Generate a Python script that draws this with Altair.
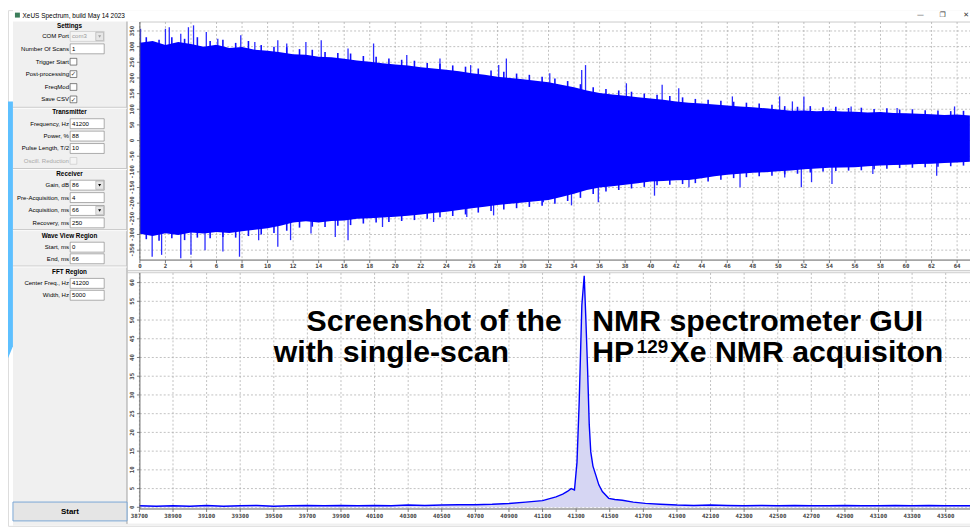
import altair as alt
import pandas as pd

# ---------------- chart values ----------------
# Top panel: FID envelope, time in ms
fid_t_ms = list(range(66))
fid_upper = [312, 318, 305, 315, 308, 300, 306, 296, 299, 290,
             287, 282, 276, 274, 268, 266, 261, 256, 252, 247,
             243, 240, 234, 230, 226, 221, 215, 210, 204, 200,
             196, 191, 186, 178, 170, 160, 152, 147, 143, 138,
             134, 130, 125, 121, 118, 115, 112, 109, 106, 103,
             99, 95, 96, 94, 95, 93, 92, 90, 91, 88,
             87, 86, 84, 82, 83, 80]
fid_lower = [-298, -305, -296, -302, -294, -297, -292, -295, -290, -285,
             -280, -272, -262, -258, -262, -257, -255, -250, -248, -246,
             -243, -240, -236, -231, -227, -222, -216, -211, -206, -202,
             -198, -194, -190, -180, -170, -158, -150, -146, -141, -136,
             -131, -129, -127, -126, -120, -114, -109, -106, -103, -101,
             -98, -96, -92, -89, -87, -86, -85, -82, -80, -78,
             -77, -75, -74, -72, -70, -68]
# tall isolated spikes
spike_up_t = [0.05, 2.0, 2.3, 3.2, 3.8, 4.2, 5.2, 6.1, 7.9, 9.0,
              10.8, 11.5, 13.0, 14.2, 16.3, 18.3, 20.9, 23.5, 25.9, 28.1,
              28.7, 32.1, 34.6, 34.9, 38.1, 40.9, 42.2, 46.4, 50.1, 51.1,
              52.0, 55.7, 59.3, 63.8]
spike_up_v = [357, 357, 362, 341, 362, 368, 347, 325, 336, 315,
              320, 310, 315, 320, 294, 310, 273, 262, 241, 241,
              262, 215, 225, 241, 183, 178, 167, 141, 141, 125,
              141, 109, 104, 109]
spike_dn_t = [0.96, 1.7, 3.2, 4.0, 5.1, 6.5, 7.8, 9.3, 10.8, 11.8,
              13.4, 15.3, 16.3, 19.0, 23.0, 25.6, 27.7, 31.6, 33.8, 35.9,
              40.3, 43.0, 47.0, 50.5, 51.8, 52.6, 54.2, 57.4, 62.4]
spike_dn_v = [-371, -365, -376, -365, -350, -354, -371, -318, -339, -318,
              -297, -308, -318, -276, -260, -244, -239, -197, -207, -197,
              -176, -149, -149, -118, -149, -133, -139, -107, -112]
# ragged fringe along the band edges (at t = 0.5, 1.5, ... 64.5 ms)
fringe_t = [0.5 + i for i in range(65)]
fringe_up = [330, 322, 330, 325, 330, 318, 322, 312, 318, 305,
             300, 298, 292, 290, 283, 280, 278, 270, 268, 262,
             258, 255, 248, 245, 240, 236, 230, 224, 220, 214,
             210, 204, 198, 190, 180, 170, 165, 160, 156, 150,
             146, 142, 138, 133, 130, 127, 124, 121, 118, 114,
             110, 108, 110, 106, 108, 104, 105, 101, 103, 99,
             100, 97, 96, 94, 95]
fringe_dn = [-315, -320, -312, -318, -310, -312, -308, -310, -305, -300,
             -295, -288, -278, -275, -276, -272, -270, -265, -262, -260,
             -257, -254, -250, -245, -241, -236, -230, -225, -220, -216,
             -212, -208, -202, -193, -183, -171, -163, -158, -153, -148,
             -143, -141, -139, -136, -131, -125, -120, -117, -114, -112,
             -108, -106, -102, -99, -97, -96, -95, -92, -90, -88,
             -87, -85, -84, -82, -80]
fid_xticks = list(range(0, 65, 2))
fid_yticks = list(range(-350, 351, 50))

# Bottom panel: FFT magnitude, frequency in Hz
spec_freq = [38700, 38800, 38900, 39000, 39100, 39200, 39300, 39400, 39500, 39600,
             39700, 39800, 39900, 40000, 40100, 40200, 40300, 40400, 40500, 40600,
             40700, 40800, 40900, 41000, 41100, 41180, 41220, 41250, 41270, 41290,
             41305, 41318, 41334, 41348, 41358, 41368, 41378, 41387, 41400, 41417,
             41435, 41456, 41494, 41530, 41575, 41640, 41712, 41800, 41900, 42000,
             42100, 42200, 42300, 42400, 42500, 42600, 42700, 42800, 42900, 43000,
             43100, 43200, 43300, 43400, 43500, 43600, 43700]
spec_amp = [0.4, 0.3, 0.4, 0.3, 0.5, 0.3, 0.4, 0.5, 0.3, 0.4,
            0.5, 0.4, 0.5, 0.4, 0.5, 0.4, 0.6, 0.5, 0.6, 0.7,
            0.7, 0.8, 1.0, 1.4, 1.8, 2.8, 3.5, 4.3, 5.0, 4.6,
            12, 28, 54, 61.8, 50, 37, 22, 14.8, 11, 8.6,
            6.0, 4.2, 2.4, 2.1, 1.9, 1.4, 1.05, 0.8, 0.6, 0.5,
            0.6, 0.5, 0.4, 0.5, 0.4, 0.5, 0.4, 0.4, 0.5, 0.4,
            0.4, 0.5, 0.4, 0.5, 0.4, 0.4, 0.4]
spec_xticks = list(range(38700, 43501, 200))
spec_yticks = list(range(0, 61, 5))

# GUI texts
title_text = "XeUS Spectrum, build May 14 2023"
panel_labels = ["Settings", "COM Port", "Number Of Scans", "Trigger Start", "Post-processing",
                "FreqMod", "Save CSV", "Transmitter", "Frequency, Hz", "Power, %",
                "Pulse Length, T/2", "Oscill. Reduction", "Receiver", "Gain, dB",
                "Pre-Acquisition, ms", "Acquisition, ms", "Recovery, ms", "Wave View Region",
                "Start, ms", "End, ms", "FFT Region", "Center Freq., Hz", "Width, Hz"]
panel_kinds = ["header", "combo_off", "edit", "check", "check_on",
               "check", "check_on", "header", "edit", "edit",
               "edit", "check_off", "header", "combo",
               "edit", "combo", "edit", "header",
               "edit", "edit", "header", "edit", "edit"]
panel_values = ["", "com3", "1", "", "",
                "", "", "", "41200", "88",
                "10", "", "", "86",
                "4", "66", "250", "",
                "0", "66", "", "41200", "5000"]
button_text = "Start"
note_l1 = "Screenshot of the"
note_l2 = "with single-scan"
note_r1 = "NMR spectrometer GUI"
note_r2a = "HP"
note_r2sup = "129"
note_r2b = "Xe NMR acquisiton"

# ---------------- layout (pixels) ----------------
SH = 8  # page margin: svg px = reference px - 8


def R(v):
    return v - SH


panel_row_y = [24, 34.5, 47, 60, 72.5, 85.5, 98, 111, 122.5, 135, 147.5, 160, 173.3,
               184.5, 197, 210, 222.5, 235.3, 247, 258.7, 272.3, 283.5, 295.5]
separator_y = [106, 167.7, 229.3, 266]

W, H = 970, 520
UI_FONT = "Liberation Sans"
TICK_FONT = "DejaVu Sans Mono"
GRID = dict(color="#a6a6a6", strokeWidth=0.7, strokeDash=[2, 2])


def PX(f):
    return alt.X(f + ":Q", scale=None, axis=None)


def PY(f):
    return alt.Y(f + ":Q", scale=None, axis=None)


def rect_layer(rows, **mk):
    df = pd.DataFrame(rows, columns=["x", "x2", "y", "y2"])
    return alt.Chart(df).mark_rect(**mk).encode(x=PX("x"), x2="x2:Q", y=PY("y"), y2="y2:Q")


def rule_layer(rows, **mk):
    df = pd.DataFrame(rows, columns=["x", "x2", "y", "y2"])
    return alt.Chart(df).mark_rule(**mk).encode(x=PX("x"), x2="x2:Q", y=PY("y"), y2="y2:Q")


def text_layer(rows, **mk):
    df = pd.DataFrame(rows, columns=["x", "y", "t"])
    return alt.Chart(df).mark_text(**mk).encode(x=PX("x"), y=PY("y"), text="t:N")


layers = []

# slide background piece (light blue arc at far left)
blue_df = pd.DataFrame({"x": [0, 5], "top": [92, 92], "bot": [351, 339]})
layers.append(alt.Chart(blue_df).mark_area(color="#5ec0ff").encode(
    x=PX("x"), y=PY("top"), y2="bot:Q"))

# window
layers.append(rect_layer([(5, W, 0, H)], fill="#f0f0f0"))
layers.append(rect_layer([(5, W, 0, 11.5)], fill="#ffffff"))
layers.append(rect_layer([(7, 12, 2.5, 7.5)], fill="#3c7d5a"))
layers.append(text_layer([(14.7, 6, title_text)], font=UI_FONT, fontSize=6.5, align="left",
                         baseline="middle", color="#000000"))
layers.append(text_layer([(920, 4.5, "\u2014"), (942.5, 4.5, "\u2750"), (966, 4.5, "\u2715")],
                         font="DejaVu Sans", fontSize=7, align="center", baseline="middle",
                         color="#333333"))

# plot panels
layers.append(rect_layer([(120, W, 11.5, 262), (120, W, 265, 517.5)], fill="#ffffff"))
layers.append(rule_layer([(120, 120, 11.5, 518)], color="#a0a0a0", strokeWidth=1))
layers.append(rule_layer([(120, W, 262.5, 262.5), (120, W, 264.8, 264.8)], color="#c8c8c8",
                         strokeWidth=0.8))

# left settings panel
headers, labels_on, labels_off = [], [], []
white_boxes, grey_boxes, btn_boxes, check_boxes, check_boxes_off = [], [], [], [], []
vals, vals_grey, ticks_chk, arrows = [], [], [], []
LBL_X, BOX0, BOX1, VAL_X = R(69.5), R(70.7), R(105), R(72.6)
for lab, kind, val, yr in zip(panel_labels, panel_kinds, panel_values, panel_row_y):
    y = R(yr)
    if kind == "header":
        headers.append((R(70), y, lab))
        continue
    (labels_off if kind == "check_off" else labels_on).append((LBL_X, y, lab))
    if kind in ("edit", "combo"):
        white_boxes.append((BOX0, BOX1, y - 5, y + 5))
        vals.append((VAL_X, y, val))
    if kind == "combo_off":
        grey_boxes.append((BOX0, BOX1, y - 5, y + 5))
        vals_grey.append((VAL_X, y, val))
    if kind in ("combo", "combo_off"):
        btn_boxes.append((R(96.5), R(104.3), y - 4.2, y + 4.2))
        arrows.append((R(100.4), y, kind))
    if kind in ("check", "check_on"):
        check_boxes.append((R(70.6), R(77.4), y - 3.4, y + 3.4))
        if kind == "check_on":
            ticks_chk.append((R(74), y + 0.3, "\u2713"))
    if kind == "check_off":
        check_boxes_off.append((R(70.6), R(77.4), y - 3.4, y + 3.4))

layers.append(rule_layer([(5, 120, R(s), R(s)) for s in separator_y], color="#c4c4c4",
                         strokeWidth=0.9))
layers.append(rule_layer([(5, 120, R(s) + 1, R(s) + 1) for s in separator_y], color="#ffffff",
                         strokeWidth=0.8))
layers.append(rect_layer(white_boxes, fill="#ffffff", stroke="#7a7a7a", strokeWidth=0.6))
layers.append(rect_layer(grey_boxes, fill="#f4f4f4", stroke="#c0c0c0", strokeWidth=0.6))
layers.append(rect_layer(btn_boxes, fill="#e6e6e6", stroke="#9a9a9a", strokeWidth=0.5))
layers.append(rect_layer(check_boxes, fill="#ffffff", stroke="#333333", strokeWidth=0.6))
layers.append(rect_layer(check_boxes_off, fill="#f4f4f4", stroke="#c4c4c4", strokeWidth=0.6))
arr_df = pd.DataFrame(arrows, columns=["x", "y", "k"])
layers.append(alt.Chart(arr_df).mark_point(shape="triangle-down", filled=True, size=9,
                                           opacity=1).encode(
    x=PX("x"), y=PY("y"),
    color=alt.Color("k:N", scale=alt.Scale(domain=["combo", "combo_off"],
                                           range=["#000000", "#a0a0a0"]), legend=None)))
layers.append(text_layer(ticks_chk, font="DejaVu Sans", fontSize=6.5, align="center",
                         baseline="middle", color="#333333"))
layers.append(text_layer(headers, font=UI_FONT, fontSize=6.4, fontWeight="bold",
                         align="center", baseline="middle", color="#000000"))
layers.append(text_layer(labels_on, font=UI_FONT, fontSize=6.1, align="right",
                         baseline="middle", color="#000000"))
layers.append(text_layer(labels_off, font=UI_FONT, fontSize=6.1, align="right",
                         baseline="middle", color="#a8a8a8"))
layers.append(text_layer(vals, font=UI_FONT, fontSize=6.1, align="left",
                         baseline="middle", color="#000000"))
layers.append(text_layer(vals_grey, font=UI_FONT, fontSize=6.1, align="left",
                         baseline="middle", color="#9a9a9a"))
# start button
layers.append(rect_layer([(5, 120, R(504), R(523))], fill="#e5e5e5", stroke="#7aa7d6",
                         strokeWidth=1))
layers.append(text_layer([(R(70.5), R(514), button_text)], font=UI_FONT, fontSize=8,
                         fontWeight="bold", align="center", baseline="middle",
                         color="#000000"))

# ---------------- top panel: FID ----------------
tx = alt.Scale(domain=[0, 64], range=[133, 957], nice=False, zero=False)
ty = alt.Scale(domain=[-350, 350], range=[R(250), R(29)], nice=False, zero=False)
TOP_Y0, TOP_Y1 = 12, 252

fid_df = pd.DataFrame({"t": fid_t_ms, "hi": fid_upper, "lo": fid_lower})
up_df = pd.DataFrame({"t": spike_up_t, "v": spike_up_v, "b": 0})
dn_df = pd.DataFrame({"t": spike_dn_t, "v": spike_dn_v, "b": 0})
fr_up_df = pd.DataFrame({"t": fringe_t, "v": fringe_up, "b": 0})
fr_dn_df = pd.DataFrame({"t": fringe_t, "v": fringe_dn, "b": 0})
fxt = pd.DataFrame({"t": fid_xticks, "lab": [str(v) for v in fid_xticks]})
fyt = pd.DataFrame({"v": fid_yticks, "lab": [str(v) for v in fid_yticks]})


def spikes(df, width, color):
    return alt.Chart(df).mark_rule(color=color, strokeWidth=width).encode(
        x=alt.X("t:Q", scale=tx, axis=None), y=alt.Y("v:Q", scale=ty, axis=None), y2="b:Q")


top = alt.layer(
    alt.Chart(fxt).mark_rule(**GRID).encode(
        x=alt.X("t:Q", scale=tx, axis=None), y=alt.value(TOP_Y0), y2=alt.value(TOP_Y1)),
    alt.Chart(fyt).mark_rule(**GRID).encode(
        y=alt.Y("v:Q", scale=ty, axis=None), x=alt.value(133), x2=alt.value(W)),
    spikes(up_df, 1.3, "#2a2aff"),
    spikes(dn_df, 1.3, "#2a2aff"),
    spikes(fr_up_df, 1.6, "#1010ff"),
    spikes(fr_dn_df, 1.6, "#1010ff"),
    alt.Chart(fid_df).mark_area(color="#0000ff", opacity=1).encode(
        x=alt.X("t:Q", scale=tx, axis=None), y=alt.Y("hi:Q", scale=ty, axis=None),
        y2="lo:Q"),
    alt.Chart(fxt).mark_rule(color="#606060", strokeWidth=0.8).encode(
        x=alt.X("t:Q", scale=tx, axis=None), y=alt.value(TOP_Y1), y2=alt.value(TOP_Y1 + 3)),
    alt.Chart(fyt).mark_rule(color="#606060", strokeWidth=0.8).encode(
        y=alt.Y("v:Q", scale=ty, axis=None), x=alt.value(130), x2=alt.value(133)),
    alt.Chart(fxt).mark_text(font=TICK_FONT, fontSize=5.8, fontWeight="bold", color="#444444",
                             align="center", baseline="middle").encode(
        x=alt.X("t:Q", scale=tx, axis=None), y=alt.value(258.5), text="lab:N"),
    alt.Chart(fyt).mark_text(font=TICK_FONT, fontSize=5.8, fontWeight="bold", color="#444444",
                             align="center", baseline="middle", angle=270).encode(
        y=alt.Y("v:Q", scale=ty, axis=None), x=alt.value(125.5), text="lab:N"),
)
layers.append(rule_layer([(133, W, TOP_Y0, TOP_Y0)], color="#c0c0c0", strokeWidth=0.8))
axis_top = rule_layer([(133, 133, TOP_Y0, TOP_Y1), (133, W, TOP_Y1, TOP_Y1)],
                      color="#606060", strokeWidth=1)

# ---------------- bottom panel: spectrum ----------------
bx = alt.Scale(domain=[38700, 43500], range=[132.5, 945.5], nice=False, zero=False)
by = alt.Scale(domain=[0, 60], range=[R(509.3), R(282.7)], nice=False, zero=False)
BOT_Y0, BOT_Y1 = 265, 503

spec_df = pd.DataFrame({"f": spec_freq, "a": spec_amp, "b": 0})
sxt = pd.DataFrame({"f": spec_xticks, "lab": [str(v) for v in spec_xticks]})
syt = pd.DataFrame({"v": spec_yticks, "lab": [str(v) for v in spec_yticks]})

bottom = alt.layer(
    alt.Chart(sxt).mark_rule(**GRID).encode(
        x=alt.X("f:Q", scale=bx, axis=None), y=alt.value(BOT_Y0), y2=alt.value(BOT_Y1)),
    alt.Chart(syt).mark_rule(**GRID).encode(
        y=alt.Y("v:Q", scale=by, axis=None), x=alt.value(133), x2=alt.value(W)),
    alt.Chart(spec_df).mark_area(color="#d6d6f3", opacity=1).encode(
        x=alt.X("f:Q", scale=bx, axis=None), y=alt.Y("a:Q", scale=by, axis=None), y2="b:Q"),
    alt.Chart(spec_df).mark_line(color="#0000ff", strokeWidth=1.4).encode(
        x=alt.X("f:Q", scale=bx, axis=None), y=alt.Y("a:Q", scale=by, axis=None)),
    alt.Chart(sxt).mark_rule(color="#606060", strokeWidth=0.8).encode(
        x=alt.X("f:Q", scale=bx, axis=None), y=alt.value(BOT_Y1), y2=alt.value(BOT_Y1 + 3)),
    alt.Chart(syt).mark_rule(color="#606060", strokeWidth=0.8).encode(
        y=alt.Y("v:Q", scale=by, axis=None), x=alt.value(130), x2=alt.value(133)),
    alt.Chart(sxt).mark_text(font=TICK_FONT, fontSize=5.8, fontWeight="bold", color="#444444",
                             align="center", baseline="middle").encode(
        x=alt.X("f:Q", scale=bx, axis=None), y=alt.value(510.5), text="lab:N"),
    alt.Chart(syt).mark_text(font=TICK_FONT, fontSize=5.8, fontWeight="bold", color="#444444",
                             align="center", baseline="middle", angle=270).encode(
        y=alt.Y("v:Q", scale=by, axis=None), x=alt.value(125.5), text="lab:N"),
)
axis_bot = rule_layer([(133, 133, BOT_Y0, BOT_Y1), (133, W, BOT_Y1, BOT_Y1)],
                      color="#606060", strokeWidth=1)

# ---------------- annotation ----------------
NOTE = dict(font=UI_FONT, fontSize=30.5, fontWeight="bold", align="left",
            baseline="alphabetic", color="#000000")
notes = [
    text_layer([(301, 324, note_l1), (268, 355, note_l2), (589, 324, note_r1),
                (589, 355, note_r2a), (667, 355, note_r2b)], **NOTE),
    text_layer([(634, 346, note_r2sup)], font=UI_FONT, fontSize=19, fontWeight="bold",
               align="left", baseline="alphabetic", color="#000000"),
]

chart = alt.layer(*layers, top, axis_top, bottom, axis_bot, *notes).resolve_scale(
    x="independent", y="independent", color="independent"
).properties(
    width=W, height=H, padding=0, autosize=alt.AutoSizeParams(type="none")
).configure_view(strokeWidth=0).configure(background="#ffffff")

chart.save("out.html", embed_options={"renderer": "svg", "actions": False})
